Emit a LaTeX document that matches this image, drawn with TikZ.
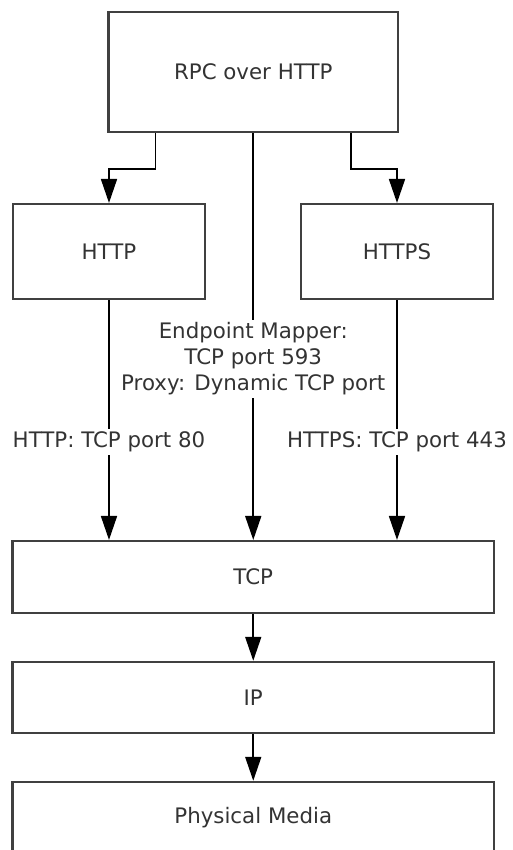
\documentclass[tikz,border=0pt]{standalone}
\usepackage{fontspec}
\setmainfont{DejaVu Sans}
\usetikzlibrary{arrows.meta}
\definecolor{boxgray}{HTML}{404040}
\definecolor{txtgray}{HTML}{333333}
\begin{document}
\begin{tikzpicture}[x=0.75pt,y=-0.75pt,
  box/.style={draw=boxgray,line width=1.6pt,rectangle,inner sep=0pt,font=\fontsize{16}{19.5}\selectfont,text=txtgray},
  arr/.style={draw=black,line width=1.3pt,-{Triangle[length=18pt,width=12pt]}},
  lab/.style={fill=white,inner sep=2pt,align=center,font=\fontsize{16}{19.5}\selectfont,text=txtgray}]
\useasboundingbox (0,0) rectangle (512,850);
\fill[white] (0,0) rectangle (512,850);
\clip (0,0) rectangle (512,850);
\node[box,minimum width=217.1pt,minimum height=90pt] (rpc) at (253.25,72) {RPC over HTTP};
\node[box,minimum width=144.4pt,minimum height=71.25pt] (http) at (109,251.5) {HTTP};
\node[box,minimum width=144.4pt,minimum height=71.25pt] (https) at (397,251.5) {HTTPS};
\node[box,minimum width=361.1pt,minimum height=54pt] (tcp) at (253.25,577) {TCP};
\node[box,minimum width=361.1pt,minimum height=53.5pt] (ip) at (253.25,697.5) {IP};
\node[box,minimum width=361.1pt,minimum height=53.5pt] (phys) at (253.25,817.5) {Physical Media};
% top connectors
\draw[arr] ([xshift=36pt]rpc.south west) -- ++(0,36) -| (http.north);
\draw[arr] ([xshift=-36pt]rpc.south east) -- ++(0,36) -| (https.north);
\draw[arr] (rpc.south) -- (rpc.south |- tcp.north);
\draw[arr] (http.south) -- (http.south |- tcp.north);
\draw[arr] (https.south) -- (https.south |- tcp.north);
\draw[arr] (tcp.south) -- (ip.north);
\draw[arr] (ip.south) -- (phys.north);
% labels
\node[lab] (lep) at (253.25,359) {Endpoint Mapper:\\TCP port 593\\Proxy: Dynamic TCP port};
\node[lab] (lhttp) at (109,442) {HTTP: TCP port 80};
\node[lab] (lhttps) at (397,442) {HTTPS: TCP port 443};
\end{tikzpicture}
\end{document}
